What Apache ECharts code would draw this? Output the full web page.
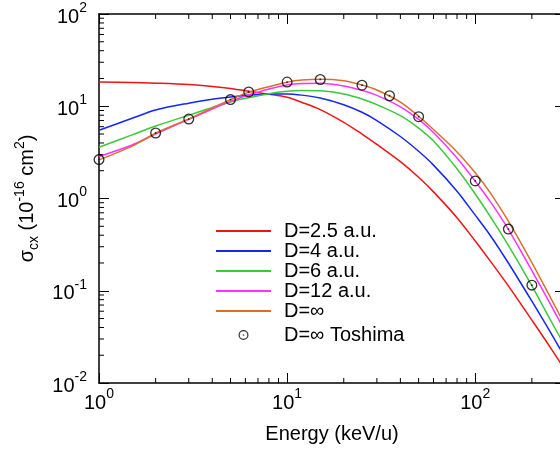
<!DOCTYPE html>
<html>
<head>
<meta charset="utf-8">
<script src="https://cdn.jsdelivr.net/npm/echarts@6/dist/echarts.min.js"></script>
<style>
  html, body { margin: 0; padding: 0; background: #fff; }
  #chart { width: 560px; height: 450px; }
</style>
</head>
<body>
<div id="chart"></div>
<script>
// energies (keV/u) where the curves were read
const energy = [1, 1.5, 2, 3, 4, 5, 6, 8, 10, 12, 15, 20, 25, 30, 40, 50, 60, 80, 100, 120, 150, 200, 250, 300];

// sigma_cx in 1e-16 cm^2
const sigmaD25 = [18.3, 18.1, 17.8, 17.2, 16.4, 15.6, 14.7, 13.5, 12.5, 11.0, 9.2, 6.7, 5.0, 3.86, 2.51, 1.70, 1.18, 0.62, 0.346, 0.211, 0.113, 0.048, 0.0245, 0.0138];
const sigmaD4 = [5.5, 7.4, 9.1, 10.8, 11.9, 12.6, 13.1, 13.6, 13.6, 13.2, 12.3, 10.4, 8.6, 7.0, 4.7, 3.25, 2.3, 1.2, 0.66, 0.40, 0.20, 0.077, 0.036, 0.019];
const sigmaD6 = [3.6, 4.9, 6.1, 8.0, 9.7, 11.1, 12.2, 13.7, 14.5, 14.8, 14.7, 13.6, 12.0, 10.4, 7.9, 5.8, 4.2, 2.1, 1.12, 0.64, 0.31, 0.113, 0.049, 0.025];
const sigmaD12 = [2.85, 3.8, 5.0, 7.2, 9.3, 11.3, 12.9, 15.4, 17.0, 17.6, 17.7, 16.6, 14.9, 13.1, 9.85, 7.2, 5.2, 2.75, 1.54, 0.93, 0.463, 0.165, 0.0726, 0.0364];
const sigmaInf = [2.62, 3.7, 5.1, 7.3, 9.6, 11.8, 13.8, 16.3, 18.2, 19.2, 19.6, 18.9, 17.0, 15.0, 11.1, 7.8, 5.6, 3.2, 1.9, 1.16, 0.57, 0.202, 0.086, 0.0425];

// Toshima reference points
const toshimaE = [1, 2, 3, 5, 6.25, 10, 15, 25, 35, 50, 100, 150, 200];
const toshimaSigma = [2.64, 5.13, 7.27, 11.8, 14.3, 18.3, 19.5, 16.9, 13.0, 7.7, 1.55, 0.466, 0.115];

const curveNames = ['D=2.5 a.u.', 'D=4 a.u.', 'D=6 a.u.', 'D=12 a.u.', 'D=\u221e'];
const curveColors = ['#f01414', '#1428f0', '#3cc83c', '#ff32ff', '#d8702c'];
const curves = [sigmaD25, sigmaD4, sigmaD6, sigmaD12, sigmaInf];
const toshimaName = 'D=\u221e Toshima';

const xMin = 1, xMax = 300, yMin = 0.01, yMax = 100;
const FONT = '"Liberation Sans", Arial, sans-serif';

// minor tick positions (2..9 in each decade)
const minorX = [];
for (const d of [1, 10, 100]) for (let k = 2; k <= 9; k++) if (d * k < xMax) minorX.push(d * k);
const minorY = [];
for (const d of [0.01, 0.1, 1, 10]) for (let k = 2; k <= 9; k++) minorY.push(+(d * k).toPrecision(3));

const chart = echarts.init(document.getElementById('chart'));

function pow10Label(v) {
    const e = Math.log10(v);
    const r = Math.round(e);
    if (Math.abs(e - r) > 1e-6) return '';
    return '{b|10}{s|' + r + '}';
}

const labelRich = {
    b: { fontSize: 20, lineHeight: 26, verticalAlign: 'bottom', fontFamily: FONT, color: '#000' },
    s: { fontSize: 14, lineHeight: 14, verticalAlign: 'top', fontFamily: FONT, color: '#000' }
};

const axisLine = { show: true, onZero: false, lineStyle: { color: '#000', width: 1.5 } };
const majorTick = { show: true, inside: true, length: 10, lineStyle: { color: '#000', width: 1 } };

const ringSymbol = 'path://M0,-10A10,10,0,1,1,0,10A10,10,0,1,1,0,-10Z' +
    'M0,-7.6A7.6,7.6,0,1,0,0,7.6A7.6,7.6,0,1,0,0,-7.6Z' +
    'M0,-1.6A1.6,1.6,0,1,1,0,1.6A1.6,1.6,0,1,1,0,-1.6Z';

const series = curves.map((arr, i) => ({
    name: curveNames[i],
    type: 'line',
    data: energy.map((e, j) => [e, arr[j]]),
    symbol: 'none',
    showSymbol: false,
    smooth: 0.3,
    lineStyle: { color: curveColors[i], width: 1.5 },
    itemStyle: { color: curveColors[i] },
    z: 3 + i
}));

series.push({
    name: toshimaName,
    type: 'scatter',
    data: toshimaE.map((e, j) => [e, toshimaSigma[j]]),
    symbol: ringSymbol,
    symbolSize: 11,
    itemStyle: { color: '#000' },
    z: 10
});

// minor ticks on all four sides
series.push({
    type: 'custom',
    silent: true,
    z: 2,
    data: minorX.map(v => [v, 1, 0]).concat(minorY.map(v => [1, v, 1])),
    renderItem: function (params, api) {
        const kind = api.value(2);
        const style = { stroke: '#000', lineWidth: 1 };
        let a, b;
        if (kind === 0) {
            const v = api.value(0);
            a = api.coord([v, yMin]);
            b = api.coord([v, yMax]);
            return {
                type: 'group',
                children: [
                    { type: 'line', shape: { x1: a[0], y1: a[1], x2: a[0], y2: a[1] - 5 }, style: style },
                    { type: 'line', shape: { x1: b[0], y1: b[1], x2: b[0], y2: b[1] + 5 }, style: style }
                ]
            };
        }
        const w = api.value(1);
        a = api.coord([xMin, w]);
        b = api.coord([xMax, w]);
        return {
            type: 'group',
            children: [
                { type: 'line', shape: { x1: a[0], y1: a[1], x2: a[0] + 5, y2: a[1] }, style: style },
                { type: 'line', shape: { x1: b[0], y1: b[1], x2: b[0] - 5, y2: b[1] }, style: style }
            ]
        };
    }
});

const option = {
    animation: false,
    backgroundColor: '#fff',
    grid: { left: 99, top: 14, width: 466, height: 369, outerBoundsMode: 'none', containLabel: false },
    legend: {
        orient: 'vertical',
        left: 215,
        top: 221,
        padding: 0,
        itemWidth: 55,
        itemHeight: 10,
        itemGap: 0,
        textStyle: { fontSize: 20, lineHeight: 20, fontFamily: FONT, color: '#000', padding: [0, 0, 0, 8] },
        data: curveNames.map(n => ({ name: n, itemStyle: { opacity: 0 } }))
            .concat([{ name: toshimaName, textStyle: { lineHeight: 24, padding: [4, 0, 0, 8] } }])
    },
    xAxis: [
        {
            type: 'log', min: xMin, max: xMax, position: 'bottom',
            axisLine: axisLine, axisTick: majorTick,
            splitLine: { show: false },
            axisLabel: { margin: 4, formatter: pow10Label, rich: labelRich },
            name: 'Energy (keV/u)', nameLocation: 'middle', nameGap: 41,
            nameTextStyle: { fontSize: 20, fontFamily: FONT, color: '#000' }
        },
        {
            type: 'log', min: xMin, max: xMax, position: 'top',
            axisLine: axisLine, axisTick: majorTick,
            splitLine: { show: false }, axisLabel: { show: false }
        }
    ],
    yAxis: [
        {
            type: 'log', min: yMin, max: yMax, position: 'left',
            axisLine: axisLine, axisTick: majorTick,
            splitLine: { show: false },
            axisLabel: { margin: 12, formatter: pow10Label, rich: labelRich },
            name: '{n|\u03c3}{sub|cx}{n| (10}{sup|-16}{n| cm}{sup|2}{n|)}',
            nameLocation: 'middle', nameGap: 55, nameRotate: 90,
            nameTextStyle: {
                fontSize: 20, fontFamily: FONT, color: '#000',
                rich: {
                    n: { fontSize: 20, lineHeight: 28, verticalAlign: 'middle', fontFamily: FONT, color: '#000' },
                    sup: { fontSize: 14, lineHeight: 14, verticalAlign: 'top', fontFamily: FONT, color: '#000' },
                    sub: { fontSize: 14, lineHeight: 14, verticalAlign: 'bottom', fontFamily: FONT, color: '#000' }
                }
            }
        },
        {
            type: 'log', min: yMin, max: yMax, position: 'right',
            axisLine: axisLine, axisTick: majorTick,
            splitLine: { show: false }, axisLabel: { show: false }
        }
    ],
    series: series
};

chart.setOption(option);
</script>
</body>
</html>
